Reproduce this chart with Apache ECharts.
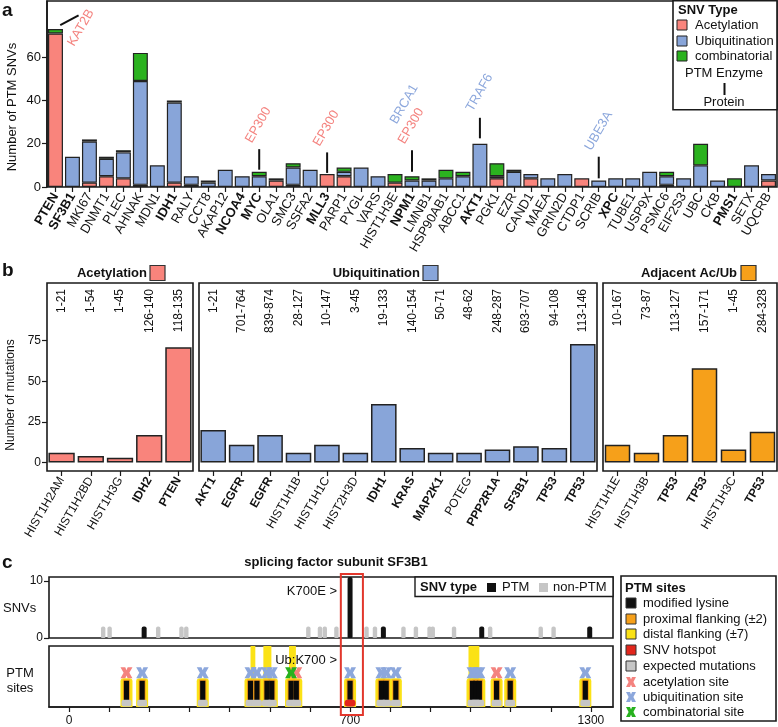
<!DOCTYPE html>
<html>
<head>
<meta charset="utf-8">
<script src="https://cdn.jsdelivr.net/npm/echarts@6/dist/echarts.min.js"></script>
<style>
html, body { margin: 0; padding: 0; background: #fff; }
#fig { width: 778px; height: 727px; }
</style>
</head>
<body>
<div id="fig"></div>
<script>
// ---- panel a: PTM SNVs per protein ----
var genesA = ['PTEN','SF3B1','MKI67','DNMT1','PLEC','AHNAK','MDN1','IDH1','RALY','CCT8','AKAP12','NCOA4','MYC','OLA1','SMC3','SSFA2','MLL3','PARP1','PYGL','VARS','HIST1H3E','NPM1','LMNB1','HSP90AB1','ABCC1','AKT1','PGK1','EZR','CAND1','MAEA','GRIN2D','CTDP1','SCRIB','XPC','TUBE1','USP9X','PSMC6','EIF2S3','UBC','CKB','PMS1','SETX','UQCRB'];
var boldA = ['PTEN','SF3B1','IDH1','NCOA4','MYC','MLL3','NPM1','AKT1','XPC','PMS1'];
var acetylA = [71,0,2,5,4,1,0,2,1,0,0,0,0,3,1,0,6,5,0,0,2,0,0,0,0,0,4,0,4,0,0,4,0,0,0,0,1,0,0,0,0,0,3];
var ubiqA   = [0,14,19,8,12,48,10,37,4,2,8,5,5,1,8,8,0,2,9,5,0,3,3,4,5,20,1,7,2,4,6,0,3,4,4,7,4,4,10,3,0,10,3];
var combA   = [2,0,1,1,1,13,0,1,0,1,0,0,2,0,2,0,0,2,0,0,4,2,1,4,2,0,6,1,0,0,0,0,0,0,0,0,2,0,10,0,4,0,0];
var yTicksA = [0,20,40,60];

// PTM enzyme -> protein annotations
var enzymeTargets = ['PTEN','MYC','MLL3','NPM1','AKT1','SCRIB'];
var enzymeLabels  = [['KAT2B'],['EP300'],['EP300'],['EP300','BRCA1'],['TRAF6'],['UBE3A']];
var enzymeKinds   = [['ac'],['ac'],['ac'],['ac','ub'],['ub'],['ub']];
var enzymeLow     = [74.8, 8, 6.5, 7, 22.5, 4];
var enzymeHigh    = [79.4, 17.5, 16, 17, 32, 14];

// ---- panel b: mutations per region ----
var acMutGenes  = ['HIST1H2AM','HIST1H2BD','HIST1H3G','IDH2','PTEN'];
var acMutRanges = ['1-21','1-54','1-45','126-140','118-135'];
var acMutCounts = [6,4,3,17,71];
var ubMutGenes  = ['AKT1','EGFR','EGFR','HIST1H1B','HIST1H1C','HIST2H3D','IDH1','KRAS','MAP2K1','POTEG','PPP2R1A','SF3B1','TP53','TP53'];
var ubMutRanges = ['1-21','701-764','839-874','28-127','10-147','3-45','19-133','140-154','50-71','48-62','248-287','693-707','94-108','113-146'];
var ubMutCounts = [20,11,17,6,11,6,36,9,6,6,8,10,9,73];
var adjMutGenes  = ['HIST1H1E','HIST1H3B','TP53','TP53','HIST1H3C','TP53'];
var adjMutRanges = ['10-167','73-87','113-127','157-171','1-45','284-328'];
var adjMutCounts = [11,6,17,58,8,19];
var boldB = ['IDH2','PTEN','AKT1','EGFR','IDH1','KRAS','MAP2K1','PPP2R1A','SF3B1','TP53'];
var yTicksB = [0,25,50,75];

// ---- panel c: SF3B1 ----
var snvNonPtm = [[85,2],[101,2],[222,2],[280,2],[292,2],[596,2],[625,2],[637,2],[666,2],[741,2],[762,2],[833,2],[864,2],[898,2],[906,2],[959,2],[1049,2],[1175,2],[1207,2]];
var snvPtm = [[187,2],[700,11],[783,2],[1028,2],[1297,2]];
var siteAcetyl = [143,566,1065];
var siteUbiq = [182,333,452,468,493,505,700,778,790,814,1005,1013,1022,1099,1286];
var siteComb = [553];
var distalTall = [[452,464],[484,504],[548,565],[995,1022]];
var snvHotspot = [700];
var hotspotWindow = [677,732];
var residueTicks = [0,100,200,300,400,500,600,700,800,900,1000,1100,1200,1300];
var residueLabels = [0,700,1300];

var FONT = '"Liberation Sans", Arial, Helvetica, sans-serif';
var RED = '#f9847c', BLUE = '#88a5d9', GREEN = '#2bb21f', ORANGE = '#f6a01a', YELLOW = '#fbe216', GRAY = '#c6c6c6';
var XRED = '#f4837f', XBLUE = '#8ca7dc', XGREEN = '#27b11f';
var XPATH = 'path://M0,0L4,0L5,2.6L6,0L10,0L7.4,5L10,10L6,10L5,7.4L4,10L0,10L2.6,5Z';

function nz(arr) { return arr.map(function (v) { return v === 0 ? '-' : v; }); }
function idx(arr) { return arr.map(function (v, i) { return String(i); }); }

var chart = echarts.init(document.getElementById('fig'));

var allSites = siteAcetyl.concat(siteUbiq, siteComb).sort(function (a, b) { return a - b; });

function boxGrid(l, t, w, h) {
	return { left: l, top: t, width: w, height: h, show: true, borderColor: '#1a1a1a', borderWidth: 1.6, backgroundColor: 'transparent', outerBoundsMode: 'none', containLabel: false };
}

function catAxis(gi, names, bolds) {
	return {
		type: 'category', gridIndex: gi, data: idx(names),
		axisLine: { show: false, onZero: false },
		axisTick: { show: true, alignWithLabel: true, length: 5, lineStyle: { color: '#1a1a1a', width: 1.2 } },
		axisLabel: {
			interval: 0, rotate: 60, margin: 7, fontSize: 12, color: '#111', fontFamily: FONT,
			formatter: function (v) { var n = names[+v]; return bolds.indexOf(n) >= 0 ? '{b|' + n + '}' : n; },
			rich: { b: { fontWeight: 'bold', fontSize: 12, fontFamily: FONT, color: '#111' } }
		}
	};
}

function rangeSeries(ai, ranges) {
	return {
		type: 'custom', xAxisIndex: ai, yAxisIndex: ai, silent: true, z: 5,
		data: ranges.map(function (r, i) { return [i, 0]; }),
		renderItem: function (params, api) {
			var p = api.coord([api.value(0), 110.5]);
			return { type: 'text', x: p[0], y: p[1] + 6, rotation: Math.PI / 2,
				style: { text: ranges[params.dataIndex], textAlign: 'right', align: 'right', textVerticalAlign: 'middle', verticalAlign: 'middle', fontSize: 12, fontFamily: FONT, fill: '#111' } };
		}
	};
}

function siteLayer(data, halfW, y0, y1, fill, stroke, r, z) {
	return {
		type: 'custom', xAxisIndex: 5, yAxisIndex: 5, silent: true, z: z,
		data: data.map(function (p) { return [p]; }),
		renderItem: function (params, api) {
			var a = api.coord([api.value(0), y0]);
			var b = api.coord([api.value(0), y1]);
			return { type: 'rect', shape: { x: a[0] - halfW, y: b[1], width: halfW * 2, height: a[1] - b[1], r: r },
				style: { fill: fill, stroke: stroke || null, lineWidth: stroke ? 1 : 0 } };
		}
	};
}

function snvLayer(data, color, halfW) {
	return {
		type: 'custom', xAxisIndex: 4, yAxisIndex: 4, silent: true, z: 4,
		data: data,
		renderItem: function (params, api) {
			var a = api.coord([api.value(0), 0]);
			var b = api.coord([api.value(0), api.value(1)]);
			var top = Math.max(b[1], params.coordSys.y);
			return { type: 'rect', shape: { x: a[0] - halfW, y: top, width: halfW * 2, height: a[1] - top, r: [2, 2, 1, 1] },
				style: { fill: color } };
		}
	};
}

function xScatter(data, color, z) {
	return {
		type: 'scatter', xAxisIndex: 5, yAxisIndex: 5, silent: true, z: z,
		symbol: XPATH, symbolSize: [12, 11],
		itemStyle: { color: color, opacity: 1 },
		data: data.map(function (p) { return [p, 0.56]; })
	};
}

var option = {
	animation: false,
	textStyle: { fontFamily: FONT, color: '#111' },
	grid: [
		boxGrid(47, 1, 730, 186),
		boxGrid(47, 283, 146, 188),
		boxGrid(199, 283, 398, 188),
		boxGrid(603, 283, 174, 188),
		boxGrid(49, 577, 564, 61),
		boxGrid(49, 646, 564, 61)
	],
	xAxis: [
		{
			type: 'category', gridIndex: 0, data: genesA,
			axisLine: { show: false, onZero: false },
			axisTick: { show: true, alignWithLabel: true, length: 5, lineStyle: { color: '#1a1a1a', width: 1.2 } },
			axisLabel: {
				interval: 0, rotate: 60, margin: 7, fontSize: 13, color: '#111', fontFamily: FONT,
				formatter: function (v) { return boldA.indexOf(v) >= 0 ? '{b|' + v + '}' : v; },
				rich: { b: { fontWeight: 'bold', fontSize: 13, fontFamily: FONT, color: '#111' } }
			}
		},
		catAxis(1, acMutGenes, boldB),
		catAxis(2, ubMutGenes, boldB),
		catAxis(3, adjMutGenes, boldB),
		{ type: 'value', gridIndex: 4, min: -50, max: 1355, show: false, splitLine: { show: false }, axisLine: { onZero: false } },
		{
			type: 'value', gridIndex: 5, min: -50, max: 1355, splitLine: { show: false },
			axisLine: { show: true, onZero: false, lineStyle: { color: '#1a1a1a', width: 1.6 } },
			axisTick: { show: true, length: 5, customValues: residueTicks, lineStyle: { color: '#1a1a1a', width: 1.2 } },
			axisLabel: { customValues: residueLabels, fontSize: 12, color: '#111', margin: 8,
				formatter: function (v) { return String(v); } }
		}
	],
	yAxis: [
		{
			type: 'value', gridIndex: 0, min: 0, max: 86, splitLine: { show: false },
			axisLine: { show: true, onZero: false, lineStyle: { color: '#1a1a1a', width: 1.6 } },
			axisTick: { show: true, length: 5, customValues: yTicksA, lineStyle: { color: '#1a1a1a', width: 1.2 } },
			axisLabel: { customValues: yTicksA, fontSize: 13, color: '#111', margin: 6 }
		},
		{
			type: 'value', gridIndex: 1, min: -5.2, max: 110.5, splitLine: { show: false },
			axisLine: { show: false, onZero: false },
			axisTick: { show: true, length: 5, customValues: yTicksB, lineStyle: { color: '#1a1a1a', width: 1.2 } },
			axisLabel: { customValues: yTicksB, fontSize: 12, color: '#111', margin: 6 }
		},
		{ type: 'value', gridIndex: 2, min: -5.2, max: 110.5, show: false, splitLine: { show: false } },
		{ type: 'value', gridIndex: 3, min: -5.2, max: 110.5, show: false, splitLine: { show: false } },
		{
			type: 'value', gridIndex: 4, min: 0, max: 10.7, splitLine: { show: false },
			axisLine: { show: false, onZero: false },
			axisTick: { show: true, length: 5, customValues: [0, 10], lineStyle: { color: '#1a1a1a', width: 1.2 } },
			axisLabel: { customValues: [0, 10], fontSize: 12, color: '#111', margin: 6 }
		},
		{ type: 'value', gridIndex: 5, min: 0, max: 1, show: false, splitLine: { show: false }, axisLine: { onZero: false } }
	],
	series: [
		// panel a
		{ name: 'Acetylation', type: 'bar', xAxisIndex: 0, yAxisIndex: 0, stack: 'snv', barWidth: '88%',
			itemStyle: { color: RED, borderColor: '#222', borderWidth: 1.2 }, data: nz(acetylA) },
		{ name: 'Ubiquitination', type: 'bar', xAxisIndex: 0, yAxisIndex: 0, stack: 'snv', barWidth: '88%',
			itemStyle: { color: BLUE, borderColor: '#222', borderWidth: 1.2 }, data: nz(ubiqA) },
		{ name: 'combinatorial', type: 'bar', xAxisIndex: 0, yAxisIndex: 0, stack: 'snv', barWidth: '88%',
			itemStyle: { color: GREEN, borderColor: '#222', borderWidth: 1.2 }, data: nz(combA) },
		{
			type: 'custom', xAxisIndex: 0, yAxisIndex: 0, silent: true, z: 6,
			data: enzymeTargets.map(function (g, i) { return [genesA.indexOf(g), enzymeHigh[i]]; }),
			renderItem: function (params, api) {
				var i = params.dataIndex;
				var cat = api.value(0);
				var bw = api.size([1, 0])[0];
				var lo = api.coord([cat, enzymeLow[i]]);
				var hi = api.coord([cat, enzymeHigh[i]]);
				var children = [];
				var ax, ay;
				if (i === 0) {
					children.push({ type: 'line', shape: { x1: lo[0] + 0.28 * bw, y1: lo[1], x2: hi[0] + 1.36 * bw, y2: hi[1] },
						style: { stroke: '#111', lineWidth: 2 } });
					var t = api.coord([cat, 64]);
					ax = t[0] + 1.24 * bw; ay = t[1];
				} else {
					children.push({ type: 'line', shape: { x1: lo[0], y1: lo[1], x2: hi[0], y2: hi[1] },
						style: { stroke: '#111', lineWidth: 2 } });
					ax = hi[0] - 5; ay = hi[1] - 4;
				}
				enzymeLabels[i].forEach(function (name, k) {
					children.push({ type: 'text', x: ax - 8 * k, y: ay - 20 * k, rotation: Math.PI / 3,
						style: { text: name, fill: enzymeKinds[i][k] === 'ac' ? XRED : XBLUE, fontSize: 13, fontFamily: FONT,
							textAlign: 'left', align: 'left', textVerticalAlign: 'bottom', verticalAlign: 'bottom' } });
				});
				return { type: 'group', children: children };
			}
		},
		// panel b
		{ type: 'bar', xAxisIndex: 1, yAxisIndex: 1, barWidth: '90%', data: acMutCounts,
			itemStyle: { color: RED, borderColor: '#222', borderWidth: 1.5 } },
		{ type: 'bar', xAxisIndex: 2, yAxisIndex: 2, barWidth: '90%', data: ubMutCounts,
			itemStyle: { color: BLUE, borderColor: '#222', borderWidth: 1.5 } },
		{ type: 'bar', xAxisIndex: 3, yAxisIndex: 3, barWidth: '88%', data: adjMutCounts,
			itemStyle: { color: ORANGE, borderColor: '#222', borderWidth: 1.5 } },
		rangeSeries(1, acMutRanges),
		rangeSeries(2, ubMutRanges),
		rangeSeries(3, adjMutRanges),
		// panel c: SNVs
		snvLayer(snvNonPtm, GRAY, 2.2),
		snvLayer(snvPtm, '#111', 2.5),
		{
			type: 'custom', xAxisIndex: 4, yAxisIndex: 4, silent: true, z: 20,
			data: [hotspotWindow],
			renderItem: function (params, api) {
				var a = api.coord([api.value(0), 0]);
				var b = api.coord([api.value(1), 10.7]);
				return { type: 'rect', shape: { x: a[0], y: b[1] - 3, width: b[0] - a[0], height: a[1] - b[1] + 80 },
					style: { fill: null, stroke: '#e2372c', lineWidth: 2 } };
			}
		},
		// panel c: PTM sites
		{
			type: 'custom', xAxisIndex: 5, yAxisIndex: 5, silent: true, z: 3,
			data: distalTall,
			renderItem: function (params, api) {
				var a = api.coord([api.value(0), 0.45]);
				var b = api.coord([api.value(1), 1]);
				return { type: 'rect', shape: { x: a[0], y: b[1], width: b[0] - a[0], height: a[1] - b[1] }, style: { fill: YELLOW } };
			}
		},
		siteLayer(allSites, 6, 0, 0.47, YELLOW, null, [3, 3, 0, 0], 4),
		siteLayer(allSites, 3.6, 0.09, 0.45, ORANGE, null, 0, 5),
		siteLayer(allSites, 2.6, 0.11, 0.43, '#0a0a0a', null, 0, 6),
		siteLayer(allSites, 5, 0.01, 0.12, GRAY, null, 2, 7),
		siteLayer(snvHotspot, 5.5, 0.01, 0.12, '#e2261c', null, 3, 8),
		xScatter(siteAcetyl, XRED, 9),
		xScatter(siteUbiq, XBLUE, 10),
		xScatter(siteComb, XGREEN, 11)
	],
	graphic: { elements: [] }
};

// static figure furniture: panel letters, titles, legends
var G = option.graphic.elements;
function txt(x, y, s, font, align, extra) {
	var e = { type: 'text', x: x, y: y, z: 50, style: { text: s, font: font || ('13px ' + FONT), fill: '#111',
		textAlign: align || 'left', textVerticalAlign: 'middle' } };
	if (extra) { for (var k in extra) e[k] = extra[k]; }
	G.push(e);
}
function box(x, y, w, h, fill, stroke, lw) {
	G.push({ type: 'rect', z: 40, shape: { x: x, y: y, width: w, height: h }, style: { fill: fill, stroke: stroke || null, lineWidth: lw || 0 } });
}
function xMark(cx, cy, color) {
	var pts = [[0,0],[4,0],[5,2.6],[6,0],[10,0],[7.4,5],[10,10],[6,10],[5,7.4],[4,10],[0,10],[2.6,5]].map(function (p) { return [cx - 5 + p[0], cy - 5 + p[1]]; });
	G.push({ type: 'polygon', z: 51, shape: { points: pts }, style: { fill: color } });
}
var BOLD13 = 'bold 13px ' + FONT;

txt(2, 11, 'a', 'bold 19px ' + FONT);
txt(2, 271, 'b', 'bold 19px ' + FONT);
txt(2, 563, 'c', 'bold 19px ' + FONT);

txt(12, 107, 'Number of PTM SNVs', '13px ' + FONT, 'center', { rotation: Math.PI / 2 });
txt(11, 395, 'Number of mutations', '12px ' + FONT, 'center', { rotation: Math.PI / 2 });

// panel a legend
box(673, 0.8, 104, 109, '#fff', '#1a1a1a', 1.6);
txt(678, 10, 'SNV Type', BOLD13);
[[RED, 'Acetylation', 25], [BLUE, 'Ubiquitination', 41], [GREEN, 'combinatorial', 56]].forEach(function (it) {
	G.push({ type: 'rect', z: 51, shape: { x: 677, y: it[2] - 5, width: 10, height: 10 }, style: { fill: it[0], stroke: '#222', lineWidth: 1 } });
	txt(695, it[2], it[1]);
});
txt(724, 73, 'PTM Enzyme', '13px ' + FONT, 'center');
G.push({ type: 'line', z: 51, shape: { x1: 724.5, y1: 83, x2: 724.5, y2: 95 }, style: { stroke: '#111', lineWidth: 2 } });
txt(724, 102, 'Protein', '13px ' + FONT, 'center');

// panel b titles
[[147, 'Acetylation', 150, RED], [420, 'Ubiquitination', 423, BLUE], [737, 'Adjacent Ac/Ub', 741, ORANGE]].forEach(function (it) {
	txt(it[0], 273, it[1], BOLD13, 'right');
	G.push({ type: 'rect', z: 51, shape: { x: it[2], y: 265.5, width: 15, height: 15 }, style: { fill: it[3], stroke: '#333', lineWidth: 1.2 } });
});

// panel c texts
txt(336, 562, 'splicing factor subunit SF3B1', BOLD13, 'center');
txt(3, 608, 'SNVs');
txt(20, 673, 'PTM', '13px ' + FONT, 'center');
txt(20, 688, 'sites', '13px ' + FONT, 'center');
txt(337, 591, 'K700E >', '13px ' + FONT, 'right');
txt(337, 660, 'Ub:K700 >', '13px ' + FONT, 'right');

// SNV type legend
box(415, 577, 198, 19.5, '#fff', '#1a1a1a', 1.4);
txt(420, 587, 'SNV type', BOLD13);
G.push({ type: 'rect', z: 51, shape: { x: 487, y: 583, width: 9, height: 9 }, style: { fill: '#111' } });
txt(502, 587, 'PTM');
G.push({ type: 'rect', z: 51, shape: { x: 539, y: 583, width: 9, height: 9 }, style: { fill: GRAY } });
txt(553, 587, 'non-PTM');

// PTM sites legend
box(621, 576, 155, 145, '#fff', '#1a1a1a', 1.6);
txt(625, 588, 'PTM sites', BOLD13);
[['#111', 'modified lysine', 603], [ORANGE, 'proximal flanking (\u00b12)', 619], [YELLOW, 'distal flanking (\u00b17)', 634],
 ['#e2261c', 'SNV hotspot', 650], [GRAY, 'expected mutations', 666]].forEach(function (it) {
	G.push({ type: 'rect', z: 51, shape: { x: 626, y: it[2] - 5, width: 10, height: 10 }, style: { fill: it[0], stroke: '#333', lineWidth: 1 } });
	txt(643, it[2], it[1]);
});
[[XRED, 'acetylation site', 682], [XBLUE, 'ubiquitination site', 697], [XGREEN, 'combinatorial site', 712]].forEach(function (it) {
	xMark(631, it[2], it[0]);
	txt(643, it[2], it[1]);
});

chart.setOption(option);
</script>
</body>
</html>
